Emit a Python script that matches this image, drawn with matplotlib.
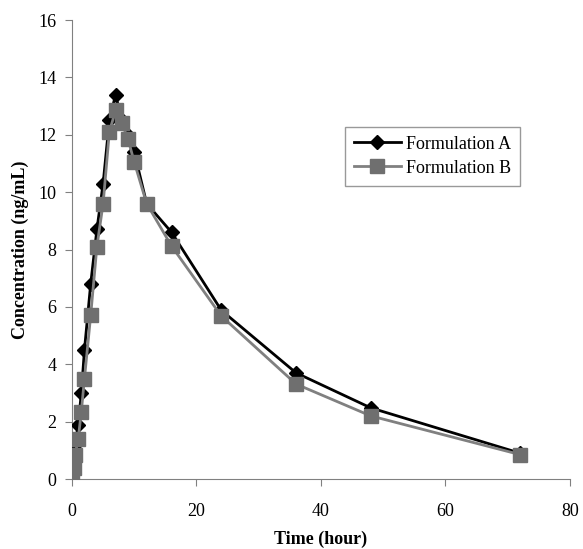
import matplotlib.pyplot as plt

TIME_H = [0, 0.25, 0.5, 1, 1.5, 2, 3, 4, 5, 6, 7, 8, 9, 10, 12, 16, 24, 36, 48, 72]
FORM_A = [0.0, 0.5, 1.2, 1.9, 3.0, 4.5, 6.8, 8.7, 10.3, 12.5, 13.4, 12.5, 12.0, 11.4,
          9.6, 8.6, 5.88, 3.7, 2.48, 0.9]
FORM_B = [0.1, 0.4, 0.85, 1.4, 2.35, 3.5, 5.7, 8.1, 9.6, 12.1, 12.85, 12.4, 11.85, 11.05,
          9.6, 8.12, 5.68, 3.31, 2.2, 0.85]

X_TICKS = [0, 20, 40, 60, 80]
Y_TICKS = [0, 2, 4, 6, 8, 10, 12, 14, 16]

plt.rcParams["font.family"] = ["Liberation Serif", "DejaVu Serif"]

fig = plt.figure(figsize=(5.83, 5.49), dpi=100)
ax = fig.add_axes([0.1235, 0.1275, 0.854, 0.836])

ax.plot(TIME_H, FORM_A, color="black", linewidth=2, marker="D",
        markersize=7.5, markerfacecolor="black", markeredgecolor="black",
        label="Formulation A", zorder=3)
ax.plot(TIME_H, FORM_B, color="#808080", linewidth=2, marker="s",
        markersize=10, markerfacecolor="#6f6f6f", markeredgecolor="#6f6f6f",
        label="Formulation B", zorder=4)

ax.set_xlim(0, 80)
ax.set_ylim(0, 16)
ax.set_xticks(X_TICKS)
ax.set_yticks(Y_TICKS)
ax.tick_params(labelsize=13, color="#808080", length=5, direction="out", pad=6)
ax.tick_params(axis="x", pad=12)

for side in ["top", "right"]:
    ax.spines[side].set_visible(False)
for side in ["left", "bottom"]:
    ax.spines[side].set_color("#808080")

ax.set_xlabel("Time (hour)", fontsize=13, fontweight="bold", labelpad=8)
ax.set_ylabel("Concentration (ng/mL)", fontsize=13, fontweight="bold", labelpad=7)

leg = ax.legend(loc="upper left", bbox_to_anchor=(0.548, 0.768), fontsize=13,
                frameon=True, fancybox=False, handlelength=2.6, borderpad=0.5,
                labelspacing=0.4, handletextpad=0.3, borderaxespad=0)
leg.get_frame().set_edgecolor("#808080")
leg.get_frame().set_linewidth(1)

fig.savefig("out.png", dpi=100)
